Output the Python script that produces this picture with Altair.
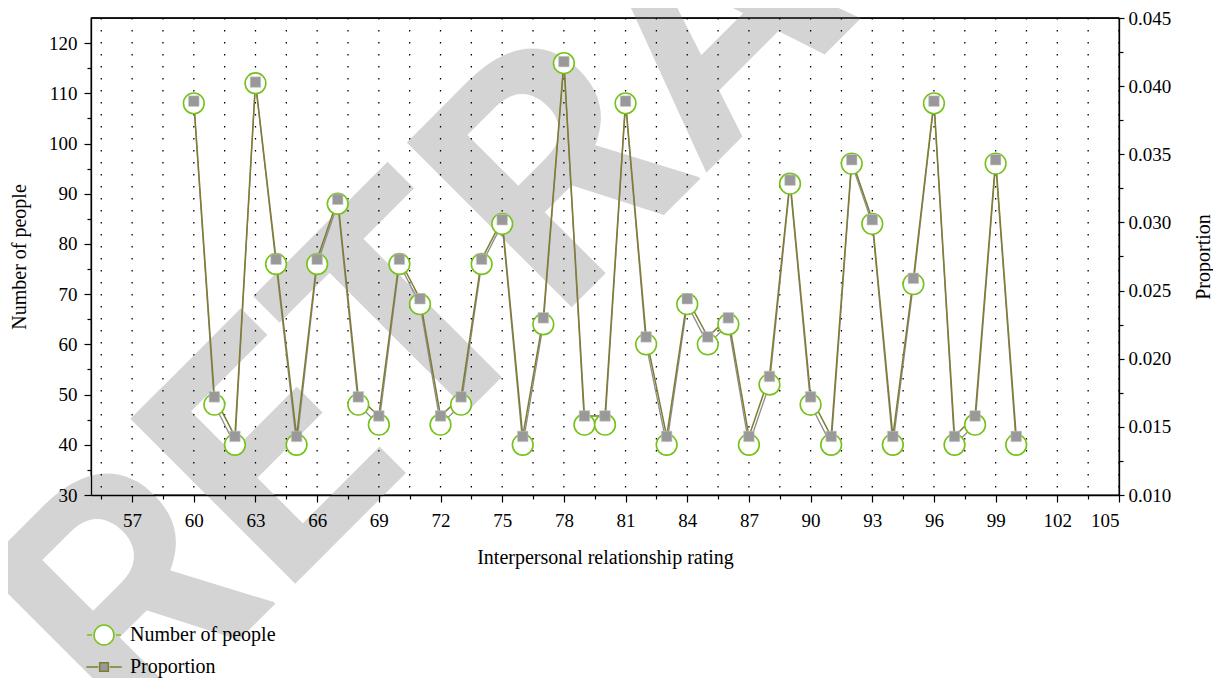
import altair as alt
import pandas as pd

# ---------------- data ----------------
ratings = list(range(60, 101))
people = [108, 48, 40, 112, 76, 40, 76, 88, 48, 44,
          76, 68, 44, 48, 76, 84, 40, 64, 116, 44,
          44, 108, 60, 40, 68, 60, 64, 40, 52, 92,
          48, 40, 96, 84, 40, 72, 108, 40, 44, 96, 40]
proportion = [0.0389, 0.0172, 0.0143, 0.0403, 0.0273, 0.0143, 0.0273, 0.0317, 0.0172, 0.0158,
              0.0273, 0.0244, 0.0158, 0.0172, 0.0273, 0.0302, 0.0143, 0.0230, 0.0418, 0.0158,
              0.0158, 0.0389, 0.0216, 0.0143, 0.0244, 0.0216, 0.0230, 0.0143, 0.0187, 0.0331,
              0.0172, 0.0143, 0.0346, 0.0302, 0.0143, 0.0259, 0.0389, 0.0143, 0.0158, 0.0346, 0.0143]
series_names = ["Number of people", "Proportion"]
watermark_text = ["RETRACTED"]

x_ticks = [v / 2 for v in range(111, 211, 3)]          # 55.5 ... 105 step 1.5
y_ticks = list(range(30, 121, 5))                      # 30 ... 120 step 5
p_ticks = [round(0.010 + 0.0025 * i, 4) for i in range(15)]  # 0.010 ... 0.045
Y_MIN, Y_MAX = 30, 125
P_MIN, P_MAX = 0.010, 0.045

df = pd.DataFrame({"rating": ratings, "people": people, "proportion": proportion})
grid_df = pd.DataFrame({"rating": x_ticks})
legend_df = pd.DataFrame({"series": series_names})
wm_df = pd.DataFrame({"label": watermark_text})

FONT = "Liberation Serif"
W, H = 1028, 477
GREEN = "#76c21b"
OLIVE = "#7f7d30"
GREY_LINE = "#8c8c8c"
SQ = "#999999"

common_axis = dict(
    domainColor="black", domainWidth=1.3, tickColor="black", tickWidth=1.2,
    labelFont=FONT, labelFontSize=19, labelColor="black",
    titleFont=FONT, titleFontSize=20, titleFontWeight="normal", titleColor="black",
    zindex=1,
)

x_enc = alt.X(
    "rating:Q",
    scale=alt.Scale(domain=[55, 105], nice=False, zero=False),
    axis=alt.Axis(
        values=x_ticks, format="d", title="Interpersonal relationship rating",
        labelExpr="datum.value % 3 === 0 ? datum.label : ''",
        tickSize={"condition": {"test": "datum.value % 3 === 0", "value": 7}, "value": 4},
        labelPadding=9, titlePadding=17, grid=False,
        **common_axis,
    ),
)

y_scale = alt.Scale(domain=[Y_MIN, Y_MAX], nice=False, zero=False)
p_scale = alt.Scale(domain=[P_MIN, P_MAX], nice=False, zero=False)

y_axis = alt.Axis(
    orient="left", values=y_ticks, title="Number of people",
    labelExpr="datum.value % 10 === 0 ? datum.label : ''",
    tickSize={"condition": {"test": "datum.value % 10 === 0", "value": 7}, "value": 4},
    labelPadding=7, titlePadding=19, grid=False,
    **common_axis,
)
p_axis = alt.Axis(
    orient="right", values=p_ticks, format=".3f", title="Proportion",
    labelExpr="round(datum.value * 10000) % 50 === 0 ? datum.label : ''",
    tickSize={"condition": {"test": "round(datum.value * 10000) % 50 === 0", "value": 5}, "value": 4},
    labelPadding=4, titlePadding=23, titleAngle=270, titleBaseline="top", grid=False,
    **common_axis,
)

watermark = alt.Chart(wm_df).mark_text(
    font="Roboto", fontWeight="bold", fontSize=328, color="#d4d4d4",
    angle=315, align="left", baseline="alphabetic",
).encode(x=alt.value(41), y=alt.value(729), text="label:N")

# top frame line drawn above the watermark
top_border = alt.Chart(wm_df).mark_rule(color="black", strokeWidth=1.3).encode(
    y=alt.Y(datum=Y_MAX, type="quantitative", scale=y_scale, axis=None)
)

grid = alt.Chart(grid_df).mark_rule(
    color="black", strokeDash=[1.6, 10.4], strokeWidth=1.3
).encode(x=x_enc)

people_line = alt.Chart(df).mark_line(color=GREY_LINE, strokeWidth=1.3).encode(
    x=x_enc, y=alt.Y("people:Q", scale=y_scale, axis=y_axis)
)
prop_line = alt.Chart(df).mark_line(color=OLIVE, strokeWidth=1.5).encode(
    x=x_enc, y=alt.Y("proportion:Q", scale=p_scale, axis=p_axis)
)
circles = alt.Chart(df).mark_point(
    shape="circle", size=430, filled=True, fill="white", stroke=GREEN, strokeWidth=1.6, opacity=1
).encode(x=x_enc, y=alt.Y("people:Q", scale=y_scale, axis=None))
squares = alt.Chart(df).mark_point(
    shape="square", size=110, filled=True, fill=SQ, stroke="#c4c4c4", strokeWidth=0.6, opacity=1
).encode(x=x_enc, y=alt.Y("proportion:Q", scale=p_scale, axis=None))

path_people = ("M-1.13,0L-0.8,0M0.8,0L1.13,0"
               "M-0.667,0A0.667,0.667,0,1,1,0.667,0A0.667,0.667,0,1,1,-0.667,0Z")
path_prop = ("M-1.18,0L-0.38,0M0.38,0L1.18,0"
             "M-0.29,-0.29L0.29,-0.29L0.29,0.29L-0.29,0.29Z")

leg = alt.Legend(
    title=None, orient="none", legendX=-3, legendY=601, direction="vertical",
    symbolSize=900, symbolStrokeWidth=1.5, labelFont=FONT, labelFontSize=20,
    labelColor="black", labelOffset=10, rowPadding=2, padding=0,
)
legend_layer = alt.Chart(legend_df).transform_filter("false").mark_point(
    filled=True, opacity=1
).encode(
    fill=alt.Fill("series:N", scale=alt.Scale(domain=series_names, range=["white", SQ]), legend=leg),
    stroke=alt.Stroke("series:N", scale=alt.Scale(domain=series_names, range=[GREEN, OLIVE]), legend=leg),
    shape=alt.Shape("series:N", scale=alt.Scale(domain=series_names, range=[path_people, path_prop]), legend=leg),
)

chart = alt.layer(
    watermark, top_border, grid, people_line, prop_line, circles, squares, legend_layer
).resolve_scale(
    y="independent"
).properties(
    width=W, height=H,
    autosize=alt.AutoSizeParams(type="none"),
    padding={"left": 83, "top": 10, "right": 94, "bottom": 183},
).configure_view(
    stroke="black", strokeWidth=1.3
)

chart.save("out.html", embed_options={"renderer": "svg", "actions": False})
